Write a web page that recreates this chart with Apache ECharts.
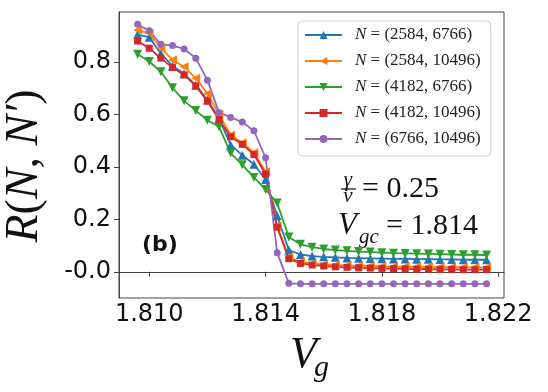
<!DOCTYPE html>
<html>
<head>
<meta charset="utf-8">
<script src="https://cdn.jsdelivr.net/npm/echarts@6/dist/echarts.min.js"></script>
<style>
    html, body { margin: 0; padding: 0; background: #fff; }
    #main { width: 548px; height: 392px; }
</style>
</head>
<body>
<div id="main"></div>
<script>
// 横轴 Vg
var vg = [1.8096, 1.8100, 1.8104, 1.8108, 1.8112, 1.8116, 1.8120, 1.8124, 1.8128, 1.8132, 1.8136,
    1.8140, 1.8144, 1.8148, 1.8152, 1.8156, 1.8160, 1.8164, 1.8168, 1.8172, 1.8176, 1.8180,
    1.8184, 1.8188, 1.8192, 1.8196, 1.8200, 1.8204, 1.8208, 1.8212, 1.8216];

// 各组 R(N, N')
var r_2584_6766 = [0.905, 0.895, 0.832, 0.785, 0.755, 0.712, 0.655, 0.585, 0.484, 0.445, 0.410, 0.352, 0.214,
    0.083, 0.066, 0.060, 0.057, 0.055, 0.053, 0.052, 0.051, 0.050, 0.049, 0.049, 0.048, 0.048, 0.047, 0.047, 0.046, 0.046, 0.046];
var r_2584_10496 = [0.922, 0.910, 0.853, 0.808, 0.782, 0.738, 0.680, 0.600, 0.522, 0.492, 0.455, 0.382, 0.176,
    0.055, 0.038, 0.032, 0.028, 0.026, 0.024, 0.023, 0.022, 0.021, 0.020, 0.020, 0.019, 0.019, 0.018, 0.018, 0.018, 0.017, 0.017];
var r_4182_6766 = [0.830, 0.802, 0.763, 0.702, 0.652, 0.615, 0.578, 0.553, 0.453, 0.408, 0.360, 0.314, 0.262,
    0.133, 0.105, 0.094, 0.087, 0.083, 0.080, 0.077, 0.075, 0.073, 0.071, 0.070, 0.069, 0.068, 0.067, 0.066, 0.065, 0.065, 0.064];
var r_4182_10496 = [0.880, 0.853, 0.815, 0.779, 0.751, 0.709, 0.651, 0.580, 0.515, 0.486, 0.447, 0.373, 0.170,
    0.050, 0.032, 0.026, 0.022, 0.019, 0.017, 0.015, 0.014, 0.013, 0.012, 0.011, 0.010, 0.010, 0.009, 0.009, 0.008, 0.008, 0.008];
var r_6766_10496 = [0.944, 0.919, 0.868, 0.863, 0.850, 0.815, 0.731, 0.608, 0.589, 0.571, 0.538, 0.435, 0.073,
    -0.044, -0.046, -0.046, -0.046, -0.046, -0.046, -0.046, -0.046, -0.046, -0.046, -0.046, -0.046, -0.046, -0.046, -0.046, -0.046, -0.046, -0.046];

var pairs = ['2584, 6766', '2584, 10496', '4182, 6766', '4182, 10496', '6766, 10496'];
var xTicks = [1.810, 1.814, 1.818, 1.822];
var yTicks = [0.0, 0.2, 0.4, 0.6, 0.8];

var colors = ['#1f77b4', '#ff7f0e', '#2ca02c', '#d62728', '#9467bd'];
var symbols = ['triangle', 'triangle', 'triangle', 'rect', 'circle'];
var rotates = [0, 90, 180, 0, 0];
var sizes = [9, 9, 9, 7, 7];
var values = [r_2584_6766, r_2584_10496, r_4182_6766, r_4182_10496, r_6766_10496];

var serif = '"Liberation Serif", "Times New Roman", serif';
var sans = '"DejaVu Sans", sans-serif';

function toPoints(ys) {
    return vg.map(function (x, i) { return [x, ys[i]]; });
}

var series = pairs.map(function (p, k) {
    return {
        name: p,
        type: 'line',
        data: toPoints(values[k]),
        symbol: symbols[k],
        symbolRotate: rotates[k],
        symbolSize: sizes[k],
        showAllSymbol: true,
        lineStyle: { color: colors[k], width: 1.8 },
        itemStyle: { color: colors[k] },
        animation: false
    };
});

var chart = echarts.init(document.getElementById('main'));
chart.setOption({
    animation: false,
    grid: { left: 119, top: 12, right: 44, bottom: 94, show: true, borderColor: '#444', borderWidth: 1, backgroundColor: 'transparent' },
    legend: {
        orient: 'vertical',
        left: 298,
        top: 21,
        padding: [5, 10, 8, 6],
        itemWidth: 37,
        itemHeight: 10,
        itemGap: 8,
        backgroundColor: '#fff',
        borderColor: '#d0d0d0',
        borderWidth: 1,
        borderRadius: 4,
        formatter: function (name) { return '{s|}{i|N} = (' + name + ')'; },
        textStyle: {
            fontFamily: serif, fontSize: 17, color: '#222', lineHeight: 18,
            rich: {
                s: { width: 8 },
                i: { fontFamily: serif, fontStyle: 'italic', fontSize: 17, color: '#222' }
            }
        }
    },
    xAxis: {
        type: 'value',
        min: 1.80896,
        max: 1.8222,
        splitLine: { show: false },
        axisLine: { lineStyle: { color: '#444', width: 1 } },
        axisTick: { customValues: xTicks, length: 5, lineStyle: { color: '#444' } },
        axisLabel: {
            customValues: xTicks, margin: 5, color: '#111', fontFamily: sans, fontSize: 24,
            formatter: function (v) { return v.toFixed(3); }
        }
    },
    yAxis: {
        type: 'value',
        min: -0.1,
        max: 0.991,
        splitLine: { show: false },
        axisLine: { show: true, lineStyle: { color: '#444', width: 1 } },
        axisTick: { show: true, customValues: yTicks, length: 5, lineStyle: { color: '#444' } },
        axisLabel: {
            customValues: yTicks, margin: 8, color: '#111', fontFamily: sans, fontSize: 24,
            formatter: function (v) { return Math.abs(v) < 1e-9 ? '-0.0' : v.toFixed(1); }
        }
    },
    series: series,
    graphic: [
        // 纵轴标题
        {
            type: 'text', x: 25, y: 166, rotation: Math.PI / 2,
            style: {
                text: '{i|R}(N, N′)'.replace('(N, N′)', '({i|N}, {i|N′})'),
                align: 'center', verticalAlign: 'middle', fill: '#111',
                font: '46px ' + serif,
                rich: { i: { fontStyle: 'italic', fontFamily: serif, fontSize: 46 } }
            }
        },
        // 横轴标题
        { type: 'text', x: 290, y: 355, style: { text: 'V', font: 'italic 44px ' + serif, fill: '#111', verticalAlign: 'middle' } },
        { type: 'text', x: 314, y: 368, style: { text: 'g', font: 'italic 30px ' + serif, fill: '#111', verticalAlign: 'middle' } },
        // (b)
        { type: 'text', x: 142, y: 245, style: { text: '(b)', font: 'bold 22px ' + sans, fill: '#111', verticalAlign: 'middle' } },
        // γ/ν = 0.25
        { type: 'text', x: 348, y: 180, style: { text: 'γ', font: 'italic 21px ' + serif, fill: '#111', align: 'center', verticalAlign: 'middle' } },
        { type: 'line', shape: { x1: 341, y1: 189, x2: 356, y2: 189 }, style: { stroke: '#111', lineWidth: 1.2 } },
        { type: 'text', x: 348, y: 196, style: { text: 'ν', font: 'italic 21px ' + serif, fill: '#111', align: 'center', verticalAlign: 'middle' } },
        { type: 'text', x: 362, y: 189, style: { text: '= 0.25', font: '30px ' + serif, fill: '#111', verticalAlign: 'middle' } },
        // Vgc = 1.814
        { type: 'text', x: 338, y: 226, style: { text: 'V', font: 'italic 31px ' + serif, fill: '#111', verticalAlign: 'middle' } },
        { type: 'text', x: 359, y: 237, style: { text: 'gc', font: 'italic 21px ' + serif, fill: '#111', verticalAlign: 'middle' } },
        { type: 'text', x: 386, y: 226, style: { text: '= 1.814', font: '30px ' + serif, fill: '#111', verticalAlign: 'middle' } }
    ]
});
</script>
</body>
</html>
